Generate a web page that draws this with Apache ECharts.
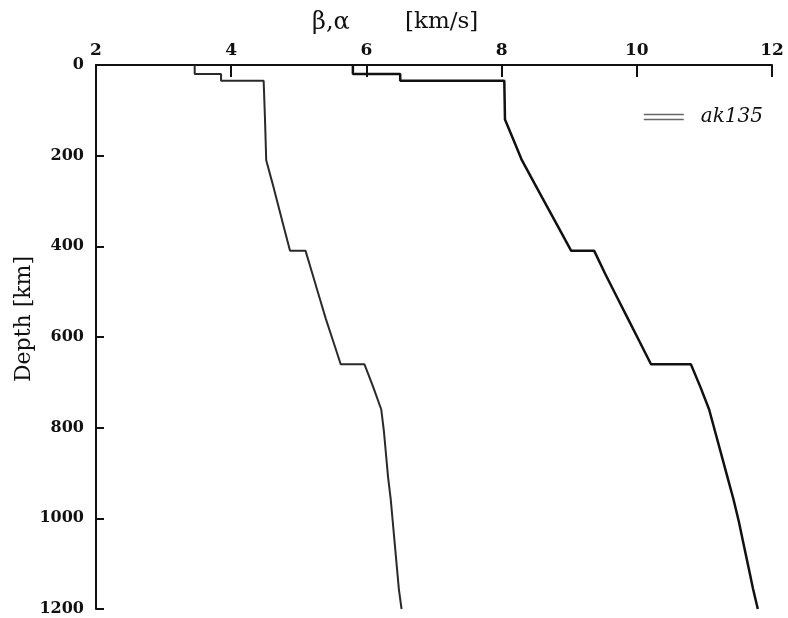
<!DOCTYPE html>
<html>
<head>
<meta charset="utf-8">
<title>ak135 velocity profile</title>
<script src="https://cdn.jsdelivr.net/npm/echarts@6/dist/echarts.min.js"></script>
<style>
  html, body { margin: 0; padding: 0; background: #fff; }
  #chart { width: 788px; height: 618px; }
</style>
</head>
<body>
<div id="chart"></div>
<script>
// depth nodes in km (repeated depth = discontinuity)
const depth = [0, 20, 20, 35, 35, 77.5, 120, 165, 210, 210, 260, 310, 360, 410, 410, 460, 510, 560, 610, 660, 660, 710, 760, 809.5, 859, 908.5, 958, 1007.5, 1057, 1106.5, 1156, 1200];
// shear velocity beta [km/s]
const vs = [3.46, 3.46, 3.85, 3.85, 4.48, 4.49, 4.50, 4.509, 4.518, 4.523, 4.609, 4.696, 4.783, 4.87, 5.10, 5.20, 5.30, 5.40, 5.51, 5.62, 5.97, 6.10, 6.22, 6.26, 6.29, 6.32, 6.36, 6.39, 6.42, 6.45, 6.48, 6.52];
// compressional velocity alpha [km/s]
const vp = [5.8, 5.8, 6.5, 6.5, 8.04, 8.045, 8.05, 8.175, 8.30, 8.30, 8.482, 8.665, 8.847, 9.03, 9.37, 9.53, 9.70, 9.87, 10.04, 10.21, 10.80, 10.94, 11.07, 11.16, 11.25, 11.34, 11.43, 11.51, 11.58, 11.65, 11.72, 11.79];
const xTicks = [2, 4, 6, 8, 10, 12];
const yTicks = [0, 200, 400, 600, 800, 1000, 1200];

const pairs = (v) => v.map((x, i) => [x, depth[i]]);

const serif = '"DejaVu Serif", "Liberation Serif", serif';
const ink = '#111';
const chart = echarts.init(document.getElementById('chart'));
chart.setOption({
  animation: false,
  backgroundColor: '#fff',
  grid: { left: 96, right: 16, top: 65, bottom: 9 },
  graphic: [
    // top axis title, split in two pieces as in the figure
    { type: 'text', left: 312, top: 11, style: { text: 'β,α', font: '24px ' + serif, fill: ink } },
    { type: 'text', left: 405, top: 11, style: { text: '[km/s]', font: '23px ' + serif, fill: ink } },
    // y axis title
    { type: 'text', x: 24, y: 319, rotation: Math.PI / 2,
      style: { text: 'Depth [km]', font: '22px ' + serif, fill: ink, align: 'center', verticalAlign: 'middle' } }
  ],
  legend: {
    right: 20, top: 102,
    itemWidth: 40, itemHeight: 8,
    data: [{ name: 'ak135', icon: 'path://M0,0H40V1.6H0Z M0,5H40V6.6H0Z' }],
    textStyle: { fontFamily: serif, fontStyle: 'italic', fontSize: 20, color: ink, padding: [0, 0, 0, 12] },
    itemStyle: { color: '#666' }
  },
  xAxis: {
    type: 'value', position: 'top',
    min: 2, max: 12, interval: 2,
    axisLine: { lineStyle: { color: ink, width: 2 } },
    axisTick: { inside: true, length: 12, lineStyle: { color: ink, width: 2 } },
    axisLabel: {
      margin: 6,
      fontFamily: serif, fontWeight: 'bold', fontSize: 17, color: ink,
      formatter: (v) => xTicks.includes(v) ? String(v) : ''
    },
    splitLine: { show: false }
  },
  yAxis: {
    type: 'value', inverse: true,
    min: 0, max: 1200, interval: 200,
    axisLine: { lineStyle: { color: ink, width: 2 } },
    axisTick: { inside: true, length: 8, lineStyle: { color: ink, width: 2 } },
    axisLabel: {
      margin: 12,
      fontFamily: serif, fontWeight: 'bold', fontSize: 16, color: ink,
      formatter: (v) => yTicks.includes(v) ? String(v) : ''
    },
    splitLine: { show: false }
  },
  series: [
    {
      name: 'ak135', type: 'line', data: pairs(vs),
      showSymbol: false, clip: true,
      lineStyle: { color: '#2a2a2a', width: 2 }
    },
    {
      name: 'ak135', type: 'line', data: pairs(vp),
      showSymbol: false, clip: true,
      lineStyle: { color: ink, width: 2.5 }
    }
  ]
});
</script>
</body>
</html>
